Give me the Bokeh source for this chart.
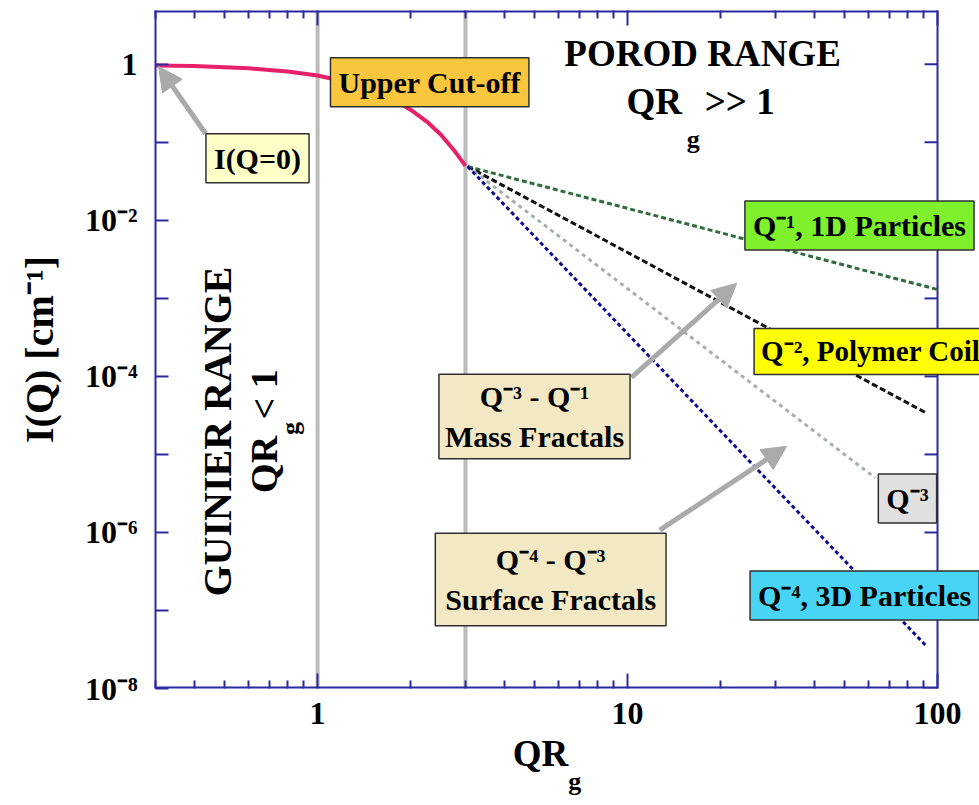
from bokeh.plotting import figure
from bokeh.models import Label, Arrow, NormalHead, Span, FixedTicker, LogAxis
from bokeh.embed import file_html
from bokeh.resources import INLINE

# ---------------- data ----------------
guinier_q = [0.3, 0.4, 0.5, 0.6, 0.8, 1.0, 1.25, 1.5, 1.75, 2.0, 2.25, 2.5, 2.75, 3.0]
guinier_i = [0.97, 0.95, 0.92, 0.89, 0.81, 0.72, 0.59, 0.47, 0.36, 0.26, 0.185, 0.125, 0.08, 0.05]

q_m1 = [3.05, 100.0]
i_m1 = [0.049, 1.3e-3]
q_m2 = [3.05, 92.0]
i_m2 = [0.049, 3.4e-5]
q_m3 = [3.05, 63.0]
i_m3 = [0.049, 5.0e-6]
q_m4 = [3.05, 92.0]
i_m4 = [0.049, 3.5e-8]

cutoffs = [1.0, 3.0]

x_ticks = [1.0, 10.0, 100.0]
x_tick_labels = ["1", "10", "100"]
x_minor_ticks = [0.3, 0.4, 0.5, 0.6, 0.7, 0.8, 0.9, 2, 3, 4, 5, 6, 7, 8, 9,
                 20, 30, 40, 50, 60, 70, 80, 90]
y_ticks = [1e-8, 1e-7, 1e-6, 1e-5, 1e-4, 1e-3, 1e-2, 1e-1, 1.0]
y_tick_labels = ["10\u207b\u2078", "", "10\u207b\u2076", "", "10\u207b\u2074", "",
                 "10\u207b\u00b2", "", "1"]

X_MIN, X_AXIS_END, X_CANVAS_END = 0.3, 100.0, 136.6
Y_MIN, Y_MAX = 1e-8, 4.9

# ---------------- styling ----------------
BLUE = "#2a2aa0"
FONT = "Liberation Serif"

p = figure(width=979, height=805, x_axis_type="log", y_axis_type="log",
           x_range=(X_MIN, X_CANVAS_END), y_range=(Y_MIN, Y_MAX),
           output_backend="svg", toolbar_location=None,
           min_border_left=155, min_border_right=0,
           min_border_top=10, min_border_bottom=117)
p.grid.visible = False
p.outline_line_color = None
p.background_fill_color = "white"
p.border_fill_color = "white"


def style_axis(ax):
    ax.axis_line_color = BLUE
    ax.axis_line_width = 2
    ax.major_tick_line_color = BLUE
    ax.major_tick_line_width = 2
    ax.minor_tick_line_color = BLUE
    ax.minor_tick_line_width = 2
    ax.major_tick_out = 0
    ax.minor_tick_out = 0
    ax.major_label_text_font = FONT
    ax.major_label_text_font_style = "bold"
    ax.major_label_text_font_size = "32px"
    ax.major_label_text_color = "black"
    ax.axis_label_text_font = FONT
    ax.axis_label_text_font_style = "bold"
    ax.axis_label_text_font_size = "40px"
    ax.axis_label_text_color = "black"


xt = FixedTicker(ticks=x_ticks, minor_ticks=x_minor_ticks)
yt = FixedTicker(ticks=y_ticks, minor_ticks=[])

for ax in p.xaxis:
    style_axis(ax)
    ax.ticker = xt
    ax.axis_line_color = None
    ax.major_tick_in = 15
    ax.minor_tick_in = 8
    ax.major_label_overrides = dict(zip(x_ticks, x_tick_labels))
    ax.major_label_standoff = 14

for ax in p.yaxis:
    style_axis(ax)
    ax.ticker = yt
    ax.major_tick_in = 13
    ax.minor_tick_in = 0
    ax.major_label_overrides = dict(zip(y_ticks, y_tick_labels))
    ax.major_label_standoff = 18
    ax.axis_label = "I(Q) [cm\u207b\u00b9]"
    ax.axis_label_standoff = 20

# x axis title "QR" with subscript "g", as label-only axes below the main one
QR_POS, G_POS = 5.24, 6.75
qr_ax = LogAxis(ticker=FixedTicker(ticks=[QR_POS], minor_ticks=[]))
style_axis(qr_ax)
qr_ax.axis_line_color = None
qr_ax.major_tick_line_color = None
qr_ax.major_label_text_font_size = "37px"
qr_ax.major_label_standoff = 6
qr_ax.major_label_overrides = {QR_POS: "QR"}
p.add_layout(qr_ax, "below")

g_ax = LogAxis(ticker=FixedTicker(ticks=[G_POS], minor_ticks=[]))
style_axis(g_ax)
g_ax.axis_line_color = None
g_ax.major_tick_line_color = None
g_ax.major_label_text_font_size = "26px"
g_ax.major_label_standoff = -10
g_ax.major_label_overrides = {G_POS: "g"}
p.add_layout(g_ax, "below")

top_ax = LogAxis(ticker=FixedTicker(ticks=x_ticks, minor_ticks=x_minor_ticks))
style_axis(top_ax)
top_ax.axis_line_color = None
top_ax.major_tick_in = 15
top_ax.minor_tick_in = 8
top_ax.major_label_text_font_size = "2px"
top_ax.major_label_text_alpha = 0
top_ax.major_label_standoff = 0
p.add_layout(top_ax, "above")

# frame border that stops at Q = 100 (the boxes may spill past it)
p.line([X_MIN, X_AXIS_END], [Y_MAX, Y_MAX], line_color=BLUE, line_width=4)
p.line([X_MIN, X_AXIS_END], [Y_MIN, Y_MIN], line_color=BLUE, line_width=4)
p.add_layout(Span(location=X_AXIS_END, dimension="height", line_color=BLUE,
                  line_width=2, level="underlay"))
p.ray(x=[X_AXIS_END] * len(y_ticks), y=y_ticks, length=13, length_units="screen",
      angle=180, angle_units="deg", line_color=BLUE, line_width=2)

# vertical range boundaries
for c in cutoffs:
    p.add_layout(Span(location=c, dimension="height", line_color="#bcbcbc",
                      line_width=4, level="underlay"))

# curves
p.line(guinier_q, guinier_i, line_color="#e8206a", line_width=4)
p.line(q_m1, i_m1, line_color="#2f6b3b", line_width=3, line_dash="5 3")
p.line(q_m2, i_m2, line_color="#111111", line_width=3, line_dash="6 3")
p.line(q_m3, i_m3, line_color="#a6b0b0", line_width=3, line_dash="4 4")
p.line(q_m4, i_m4, line_color="#0c0c90", line_width=3, line_dash="4 3")

# arrows
ARROW = "#aaaaaa"
for xs, ys, xe, ye in [(0.435, 0.13, 0.307, 0.94),
                       (10.3, 9.7e-5, 22.5, 1.56e-3),
                       (12.7, 1.07e-6, 32.6, 1.27e-5)]:
    p.add_layout(Arrow(end=NormalHead(size=24, fill_color=ARROW, line_color=ARROW),
                       x_start=xs, y_start=ys, x_end=xe, y_end=ye,
                       line_color=ARROW, line_width=5))


def box(text, x, y, bg, align="center", size="30px", pad=8):
    p.add_layout(Label(x=x, y=y, text=text, text_align=align, text_baseline="middle",
                       text_font=FONT, text_font_style="bold", text_font_size=size,
                       text_color="black", background_fill_color=bg,
                       border_line_color="#303030", border_line_width=1.5,
                       padding=pad))


def txt(text, x, y, size="36px", angle=0, align="center"):
    p.add_layout(Label(x=x, y=y, text=text, text_align=align, text_baseline="middle",
                       text_font=FONT, text_font_style="bold", text_font_size=size,
                       text_color="black", angle=angle, angle_units="deg"))


box("Upper Cut-off", 2.30, 0.588, "#f9c63e")
box("I(Q=0)", 0.64, 0.0624, "#ffffc8")
box("Q\u207b\u00b9, 1D Particles", 56.0, 8.63e-3, "#7ef02c")
box("Q\u207b\u00b2, Polymer Coil", 25.6, 2.09e-4, "#ffff00", align="left", size="29px",
    pad=7)
box("Q\u207b\u00b3", 80.0, 2.73e-6, "#e0e0e0")
box("Q\u207b\u2074, 3D Particles", 58.2, 1.56e-7, "#48d4f4")
box("Q\u207b\u00b3 - Q\u207b\u00b9\nMass Fractals", 5.01, 3.07e-5, "#f2e8c4", pad=6)
box("Q\u207b\u2074 - Q\u207b\u00b3\nSurface Fractals", 5.65, 2.5e-7, "#f2e8c4", pad=10)

# range titles
txt("POROD RANGE", 17.46, 1.38, size="37px")
txt("QR", 12.2, 0.336, size="37px")
txt("g", 16.3, 0.11, size="26px")
txt(">> 1", 23.0, 0.336, size="37px")

txt("GUINIER RANGE", 0.476, 1.97e-5, size="40px", angle=90)
txt("QR", 0.67, 7.45e-6, size="38px", angle=90)
txt("g", 0.818, 2.15e-5, size="26px", angle=90)
txt("< 1", 0.67, 5.88e-5, size="38px", angle=90)

open("out.html", "w").write(file_html(p, INLINE))
